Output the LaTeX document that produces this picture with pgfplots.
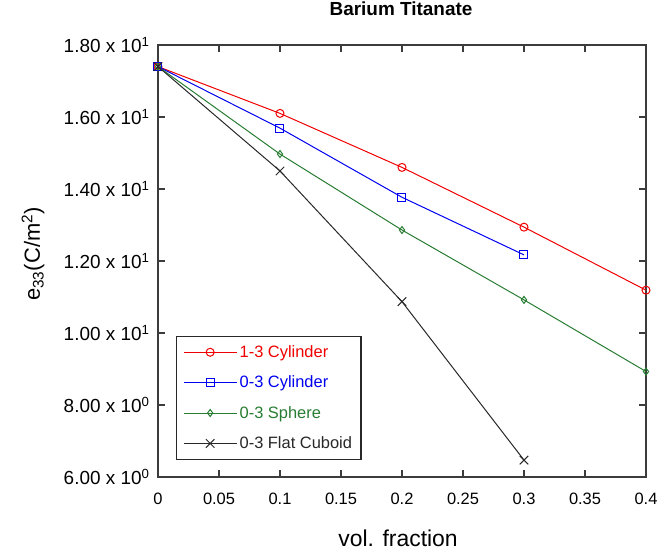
\documentclass[border=0pt]{standalone}
\usepackage{fontspec}
\setmainfont{Liberation Sans}
\usepackage{pgfplots}
\pgfplotsset{compat=1.18}
\definecolor{cred}{RGB}{240,0,0}
\definecolor{cblue}{RGB}{0,0,240}
\definecolor{cgreen}{RGB}{40,125,50}
\definecolor{cblack}{RGB}{40,40,40}
\definecolor{caxis}{RGB}{60,60,60}
\begin{document}
\begin{tikzpicture}
\begin{axis}[
  scale only axis,
  width=488bp, height=432bp,
  xmin=0, xmax=0.4, ymin=6, ymax=18,
  xtick={0,0.05,0.1,0.15,0.2,0.25,0.3,0.35,0.4},
  xticklabels={0,0.05,0.1,0.15,0.2,0.25,0.3,0.35,0.4},
  ytick={6,8,10,12,14,16,18},
  yticklabels={6.00 x 10\textsuperscript{0},8.00 x 10\textsuperscript{0},1.00 x 10\textsuperscript{1},1.20 x 10\textsuperscript{1},1.40 x 10\textsuperscript{1},1.60 x 10\textsuperscript{1},1.80 x 10\textsuperscript{1}},
  axis line style={caxis, line width=1.5bp},
  major tick length=7bp,
  every tick/.style={caxis, line width=1.5bp},
  xticklabel style={font=\fontsize{16.5}{18}\selectfont, yshift=-13bp},
  yticklabel style={font=\fontsize{19}{21}\selectfont, xshift=-5bp},
  xlabel={vol. fraction},
  xlabel style={font=\fontsize{23}{26}\selectfont, at={(axis description cs:0.492,-0.141)}, anchor=center},
  ylabel={e\textsubscript{33}(C/m\textsuperscript{2})},
  ylabel style={font=\fontsize{22}{25}\selectfont, at={(axis description cs:-0.256,0.516)}, anchor=center, rotate=0},
  title={\textbf{Barium Titanate}},
  title style={font=\fontsize{19}{21}\selectfont, at={(axis description cs:0.498,1.069)}, anchor=center},
  legend style={at={(axis description cs:0.037,0.04)}, anchor=south west,
    font=\fontsize{16.5}{19}\selectfont, draw=cblack, line width=1.2bp,
    row sep=13bp, inner xsep=7bp, inner ysep=7bp, cells={anchor=west}},
  legend cell align=left,
  legend image code/.code={%
    \path (-3bp,0bp) -- (50bp,0bp);
    \draw[#1, line width=1bp] (0bp,0bp) -- (46bp,0bp);
    \draw[#1, line width=1bp, mark repeat=1] plot coordinates {(23bp,0bp)};},
]
\addplot[cred, line width=1bp, mark=o, mark size=4bp, mark options={solid, line width=1bp}]
  coordinates {(0,17.40) (0.1,16.10) (0.2,14.60) (0.3,12.94) (0.4,11.19)};
\addlegendentry{\textcolor{cred}{1-3 Cylinder}}
\addplot[cblue, line width=1bp, mark=square, mark size=4bp, mark options={solid, line width=1bp}]
  coordinates {(0,17.40) (0.1,15.69) (0.2,13.77) (0.3,12.17)};
\addlegendentry{\textcolor{cblue}{0-3 Cylinder}}
\addplot[cgreen, line width=1bp, mark=diamond, mark size=3.5bp, mark options={solid, line width=1bp}]
  coordinates {(0,17.40) (0.1,14.97) (0.2,12.86) (0.3,10.92) (0.4,8.93)};
\addlegendentry{\textcolor{cgreen}{0-3 Sphere}}
\addplot[cblack, line width=1bp, mark=x, mark size=6bp, mark options={solid, line width=1bp}]
  coordinates {(0,17.40) (0.1,14.50) (0.2,10.87) (0.3,6.47)};
\addlegendentry{\textcolor{cblack}{0-3 Flat Cuboid}}
\end{axis}
\pgfresetboundingbox
\path (-158bp,-76bp) rectangle (501bp,477bp);
\end{tikzpicture}
\end{document}
